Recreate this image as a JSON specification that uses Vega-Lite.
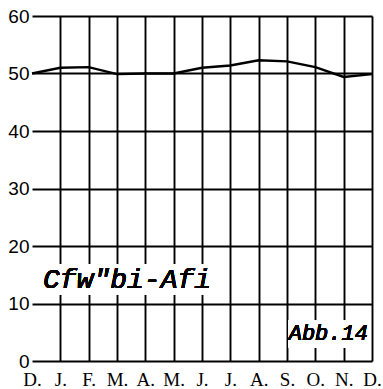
{
  "$schema": "https://vega.github.io/schema/vega-lite/v6.json",
  "width": 340,
  "height": 345,
  "autosize": {"type": "none"},
  "padding": {"left": 32, "top": 16, "right": 11, "bottom": 28},
  "background": "white",
  "config": {"view": {"stroke": null}},
  "data": {
    "values": [
      {"i": 0, "month": "D.", "v": 50.0},
      {"i": 1, "month": "J.", "v": 51.0},
      {"i": 2, "month": "F.", "v": 51.1},
      {"i": 3, "month": "M.", "v": 49.9},
      {"i": 4, "month": "A.", "v": 50.0},
      {"i": 5, "month": "M.", "v": 50.0},
      {"i": 6, "month": "J.", "v": 51.0},
      {"i": 7, "month": "J.", "v": 51.4},
      {"i": 8, "month": "A.", "v": 52.3},
      {"i": 9, "month": "S.", "v": 52.1},
      {"i": 10, "month": "O.", "v": 51.1},
      {"i": 11, "month": "N.", "v": 49.4},
      {"i": 12, "month": "D.", "v": 49.9}
    ]
  },
  "layer": [
    {
      "mark": {"type": "line", "color": "black", "strokeWidth": 2.4},
      "encoding": {
        "x": {
          "field": "i",
          "type": "quantitative",
          "scale": {"domain": [0, 12], "nice": false, "zero": false},
          "axis": {
            "values": [0, 1, 2, 3, 4, 5, 6, 7, 8, 9, 10, 11, 12],
            "tickCount": 13,
            "labelExpr": "['D.','J.','F.','M.','A.','M.','J.','J.','A.','S.','O.','N.','D.'][datum.value]",
            "title": null,
            "domain": false,
            "ticks": false,
            "grid": true,
            "gridColor": "black",
            "gridWidth": 1.9,
            "gridOpacity": {"condition": {"test": "datum.value == 0", "value": 0}, "value": 1},
            "labelFont": "Liberation Sans Narrow",
            "labelFontSize": 19,
            "labelColor": "black",
            "labelPadding": 9,
            "labelFlush": false,
            "labelOverlap": false,
            "labelBound": false
          }
        },
        "y": {
          "field": "v",
          "type": "quantitative",
          "scale": {"domain": [0, 60], "nice": false},
          "axis": {
            "values": [0, 10, 20, 30, 40, 50, 60],
            "tickCount": 7,
            "title": null,
            "domain": false,
            "ticks": false,
            "grid": true,
            "gridColor": "black",
            "gridWidth": 1.9,
            "labelFont": "Liberation Sans",
            "labelFontSize": 19,
            "labelColor": "black",
            "labelPadding": 3,
            "labelOverlap": false
          }
        }
      }
    },
    {
      "mark": {"type": "rect", "color": "white"},
      "encoding": {
        "x": {"datum": 0},
        "x2": {"datum": 6.6},
        "y": {"datum": 11.6},
        "y2": {"datum": 16.8}
      }
    },
    {
      "mark": {
        "type": "text",
        "font": "Liberation Mono",
        "fontStyle": "italic",
        "fontSize": 28,
        "align": "left",
        "baseline": "alphabetic",
        "color": "black"
      },
      "encoding": {
        "x": {"datum": 0.39},
        "y": {"datum": 12.7},
        "text": {"value": "Cfw\"bi-Afi"}
      }
    },
    {
      "mark": {"type": "rect", "color": "white"},
      "encoding": {
        "x": {"datum": 9.06},
        "x2": {"datum": 11.94},
        "y": {"datum": 2.3},
        "y2": {"datum": 7.1}
      }
    },
    {
      "mark": {
        "type": "text",
        "font": "Liberation Mono",
        "fontStyle": "italic",
        "fontSize": 22,
        "align": "left",
        "baseline": "alphabetic",
        "color": "black"
      },
      "encoding": {
        "x": {"datum": 9.06},
        "y": {"datum": 3.65},
        "text": {"value": "Abb.14"}
      }
    }
  ]
}
